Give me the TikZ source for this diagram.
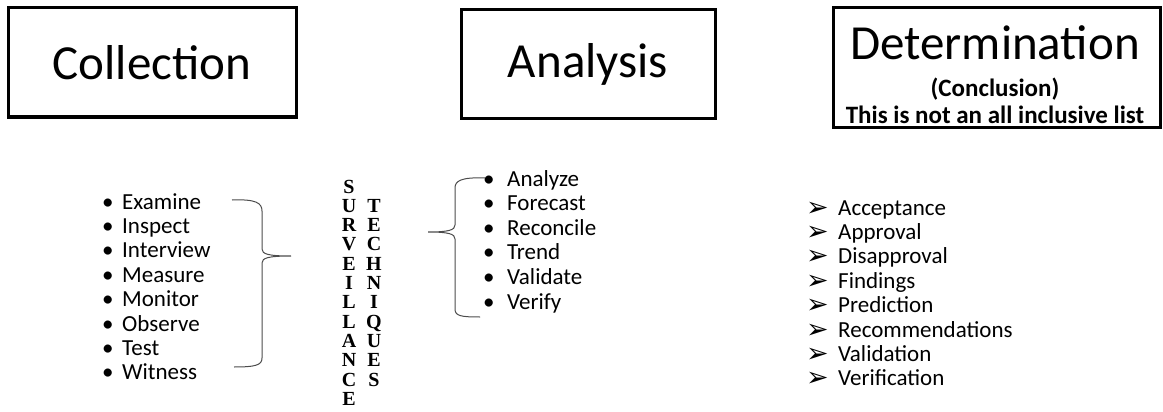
\documentclass[tikz,border=0pt]{standalone}
\usepackage{fontspec}
\setmainfont{Carlito}
\newfontfamily\lettfont{Liberation Serif}
\newfontfamily\symfont{DejaVu Sans}
\usetikzlibrary{positioning}

\begin{document}
\begin{tikzpicture}[x=1pt,y=-1pt,
  titlebox/.style={draw,line width=3pt,inner sep=0pt},
  bigtitle/.style={font=\fontsize{49}{50}\selectfont},
  listitem/.style={anchor=base west,inner sep=0pt,font=\fontsize{23}{24}\selectfont},
  vletter/.style={anchor=base,inner sep=0pt,font=\lettfont\bfseries\fontsize{20}{20}\selectfont},
  bracket/.style={draw=black!70,line width=1pt}]

\useasboundingbox (0,0) rectangle (1163,412);

% title boxes
\node[titlebox,minimum width=288,minimum height=109] (colbox) at (152,62.5) {};
\node[bigtitle] (coltitle) at (colbox) {Collection};
\node[titlebox,minimum width=254,minimum height=108] (anabox) at (588,64) {};
\node[bigtitle] (anatitle) at (anabox) {Analysis};
\node[titlebox,minimum width=327,minimum height=119] (detbox) at (996.5,67.5) {};
\node[bigtitle,anchor=base] (dettitle) at (995,60) {Determination};
\node[anchor=base,inner sep=0pt,font=\bfseries\fontsize{25}{25}\selectfont] (concl) at (995,97) {(Conclusion)};
\node[anchor=base,inner sep=0pt,font=\bfseries\fontsize{25}{25}\selectfont] (note) at (995,123.5) {This is not an all inclusive list};

% collection list
\foreach \w [count=\i] in {Examine,Inspect,Interview,Measure,Monitor,Observe,Test,Witness}
  {
  \node[listitem] (colb\i) at (102,{209+(\i-1)*24.4}) {•};
  \node[listitem] (coli\i) at (122,{209+(\i-1)*24.4}) {\w};
  }

% analysis list
\foreach \w [count=\i] in {Analyze,Forecast,Reconcile,Trend,Validate,Verify}
  {
  \node[listitem] (anab\i) at (483,{186+(\i-1)*24.6}) {•};
  \node[listitem] (anai\i) at (507,{186+(\i-1)*24.6}) {\w};
  }

% determination list
\foreach \w [count=\i] in {Acceptance,Approval,Disapproval,Findings,Prediction,Recommendations,Validation,Verification}
  {
  \node[listitem,font=\symfont\fontsize{27}{24}\selectfont] (deta\i) at (806,{216+(\i-1)*24.4}) {➢};
  \node[listitem] (deti\i) at (838,{215+(\i-1)*24.4}) {\w};
  }

% vertical words
\foreach \ch [count=\i] in {S,U,R,V,E,I,L,L,A,N,C,E}
  \node[vletter] (surv\i) at (349,{193+(\i-1)*19.3}) {\ch};
\foreach \ch [count=\i] in {T,E,C,H,N,I,Q,U,E,S}
  \node[vletter] (tech\i) at (374,{212.3+(\i-1)*19.3}) {\ch};

% braces
\coordinate (lbtop) at (232,200);
\coordinate (lbtip) at (291,256);
\coordinate (lbbot) at (234,367);
\draw[bracket] (lbtop) .. controls (256,199) and (262,203) .. (262,211) -- (262,249)
  .. controls (262,254) and (268,256) .. (lbtip)
  .. controls (268,256) and (262,258) .. (262,263) -- (262,358)
  .. controls (262,365) and (256,367) .. (lbbot);

\coordinate (rbtop) at (485,178);
\coordinate (rbtip) at (428,232);
\coordinate (rbbot) at (480,317);
\draw[bracket] (rbtop) .. controls (461,177) and (455,181) .. (455,188) -- (455,225)
  .. controls (455,230) and (449,232) .. (rbtip)
  .. controls (449,232) and (455,234) .. (455,239) -- (455,309)
  .. controls (455,316) and (461,317) .. (rbbot);

\end{tikzpicture}
\end{document}
